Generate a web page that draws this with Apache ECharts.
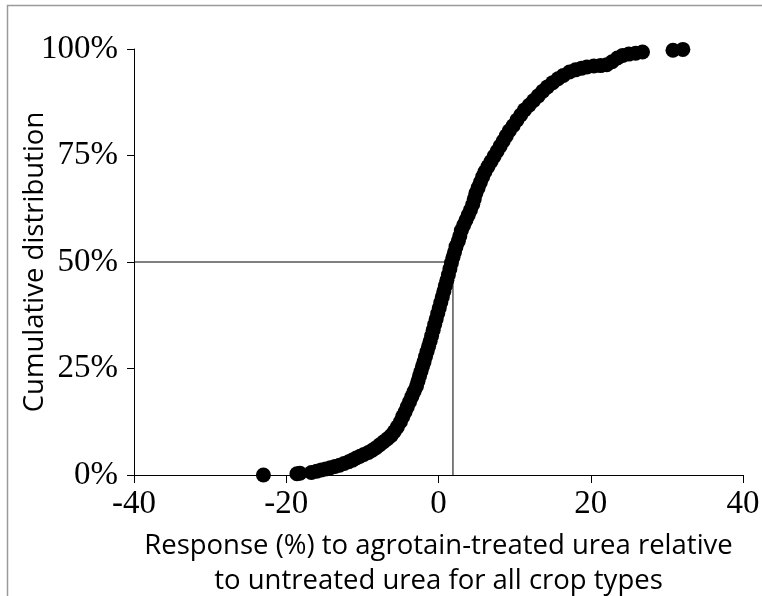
<!DOCTYPE html>
<html>
<head>
<meta charset="utf-8">
<script src="https://cdn.jsdelivr.net/npm/echarts@6/dist/echarts.min.js"></script>
<style>
html,body{margin:0;padding:0;background:#fff;}
#chart{width:762px;height:596px;}
</style>
</head>
<body>
<div id="chart"></div>
<script>
// Response (%) values (sorted)
var responseValues = [
-23.0,-18.6,-18.2,-16.7,-16.0,-15.4,-14.8,-14.2,-13.6,-13.0,-12.4,-11.8,-11.3,-10.8,-10.3,-9.8,-9.2,-8.7,-8.2,-7.7,-7.2,-6.7,-6.2,-5.8,-5.4,-5.0,-4.7,-4.4,-4.1,-3.8,-3.5,-3.2,-2.9,-2.7,-2.5,-2.3,-2.1,-1.9,-1.7,-1.5,-1.3,-1.1,-0.9,-0.7,-0.5,-0.3,-0.1,0.1,0.3,0.5,0.7,0.9,1.1,1.3,1.5,1.7,1.9,2.1,2.3,2.6,2.8,3.0,3.3,3.6,3.9,4.2,4.5,4.7,4.9,5.2,5.5,5.8,6.1,6.5,6.9,7.3,7.7,8.1,8.5,8.9,9.3,9.8,10.3,10.8,11.3,11.9,12.5,13.1,13.7,14.3,15.0,15.7,16.4,17.2,18.0,18.8,19.5,20.4,21.3,22.1,22.8,23.5,24.2,25.0,25.9,26.8,30.8,32.1
];
// Cumulative distribution (%)
var cumulativeValues = [
0.0,0.3,0.4,0.6,0.9,1.2,1.4,1.7,2.0,2.3,2.7,3.1,3.5,4.0,4.4,4.8,5.3,5.8,6.4,7.1,7.8,8.5,9.3,10.2,11.3,12.5,13.7,14.8,16.0,17.2,18.4,19.6,20.8,22.0,23.2,24.3,25.5,26.6,27.8,29.0,30.2,31.4,32.7,34.0,35.3,36.6,37.9,39.2,40.5,41.8,43.1,44.4,45.7,47.0,48.4,49.8,51.1,52.3,53.6,54.9,56.1,57.4,58.6,59.8,61.0,62.2,63.5,64.8,66.1,67.4,68.7,70.0,71.2,72.4,73.6,74.8,76.0,77.2,78.4,79.6,80.8,82.0,83.3,84.5,85.7,86.8,87.9,89.0,90.1,91.1,92.1,93.0,93.8,94.6,95.1,95.5,95.8,96.0,96.1,96.3,97.0,97.9,98.5,98.8,99.0,99.3,99.7,99.9
];
// Median guide line
var medianX = 1.9;
var medianY = 50;
var xTicks = [-40, 40, 20];   // min, max, interval
var yTicks = [0, 100, 25];

var points = responseValues.map(function(v, i){ return [v, cumulativeValues[i]]; });
var guide = [[xTicks[0], medianY], [medianX, medianY], [medianX, 0]];

var chart = echarts.init(document.getElementById('chart'), null, {renderer:'canvas'});
var serif = '"Liberation Serif", "Times New Roman", serif';
var sans = '"Open Sans", Lato, sans-serif';
chart.setOption({
  animation: false,
  backgroundColor: '#fff',
  graphic: [{
    type: 'rect', shape: {x: 7.5, y: 5.5, width: 800, height: 700},
    style: {fill: 'none', stroke: '#9a9a9a', lineWidth: 1.5}, silent: true
  }],
  grid: {left: 134, right: 19, top: 49, bottom: 121, containLabel: false, outerBoundsMode: 'none'},
  xAxis: {
    type: 'value', min: xTicks[0], max: xTicks[1], interval: xTicks[2],
    name: 'Response (%) to agrotain-treated urea relative\nto untreated urea for all crop types',
    nameLocation: 'middle', nameGap: 54, nameMoveOverlap: false,
    nameTextStyle: {fontFamily: sans, fontSize: 27.5, color: '#000', lineHeight: 35},
    axisLine: {onZero: false, lineStyle: {color: '#000', width: 1}},
    axisTick: {show: true, length: 8, inside: false, lineStyle: {color: '#000'}},
    axisLabel: {fontFamily: serif, fontSize: 33, color: '#000', margin: 13},
    splitLine: {show: false}
  },
  yAxis: {
    type: 'value', min: yTicks[0], max: yTicks[1], interval: yTicks[2],
    name: 'Cumulative distribution',
    nameLocation: 'middle', nameGap: 85, nameMoveOverlap: false,
    nameTextStyle: {fontFamily: sans, fontSize: 27.5, color: '#000'},
    axisLine: {show: true, onZero: false, lineStyle: {color: '#000', width: 1}},
    axisTick: {show: true, length: 7, inside: false, lineStyle: {color: '#000'}},
    axisLabel: {fontFamily: serif, fontSize: 33, color: '#000', margin: 16, formatter: '{value}%'},
    splitLine: {show: false}
  },
  series: [{
    type: 'line', data: guide, symbol: 'none', silent: true, z: 1,
    lineStyle: {color: '#000', width: 1}
  }, {
    type: 'scatter', data: points, symbol: 'circle', symbolSize: 15, z: 3,
    itemStyle: {color: '#000', opacity: 1}
  }]
});
</script>
</body>
</html>
